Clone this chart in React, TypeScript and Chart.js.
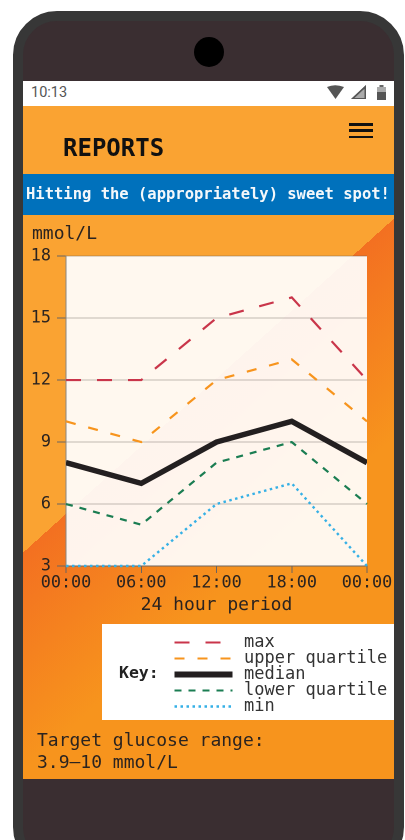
import React, { useEffect, useRef } from "react";
import { Chart, registerables } from "chart.js";

Chart.register(...registerables);

const hours = ["00:00", "06:00", "12:00", "18:00", "00:00"];
const maxValues = [12, 12, 15, 16, 12];
const upperQuartile = [10, 9, 12, 13, 10];
const medianValues = [8, 7, 9, 10, 8];
const lowerQuartile = [6, 5, 8, 9, 6];
const minValues = [3, 3, 6, 7, 3];
const yTicks = [3, 6, 9, 12, 15, 18];

const seriesLabels = ["max", "upper quartile", "median", "lower quartile", "min"];
const seriesValues = [maxValues, upperQuartile, medianValues, lowerQuartile, minValues];
const seriesColors = ["#c9354a", "#f7941d", "#231f20", "#1a7d52", "#35b0e6"];
const seriesWidths = [2.2, 2.2, 5.5, 2.2, 2.4];
const seriesDashes = [[15, 16], [10, 13], [], [7, 7], [2.5, 3.5]];

const MONO = '"DejaVu Sans Mono", monospace';
const TEXT = "#2a2320";

const plotBackground = {
  id: "plotBackground",
  beforeDraw(chart: any) {
    const { ctx, chartArea: a } = chart;
    ctx.save();
    ctx.fillStyle = "rgba(255,255,255,0.92)";
    ctx.fillRect(a.left, a.top, a.right - a.left, a.bottom - a.top);
    ctx.restore();
  },
};

const abs = (left: number, top: number, width: number, height: number, extra: any = {}) => ({
  position: "absolute" as const,
  left,
  top,
  width,
  height,
  ...extra,
});

export default function App() {
  const ref = useRef<HTMLCanvasElement>(null);

  useEffect(() => {
    const chart = new Chart(ref.current!, {
      type: "line",
      plugins: [plotBackground],
      data: {
        labels: hours,
        datasets: seriesLabels.map((label, i) => ({
          label,
          data: seriesValues[i],
          borderColor: seriesColors[i],
          borderWidth: seriesWidths[i],
          borderDash: seriesDashes[i],
          pointRadius: 0,
          tension: 0,
          clip: i === 2 ? 0 : false,
        })) as any,
      },
      options: {
        responsive: false,
        animation: false,
        devicePixelRatio: 2,
        layout: { padding: { left: 0, right: 27, top: 4, bottom: 0 } },
        plugins: { legend: { display: false }, tooltip: { enabled: false } },
        scales: {
          x: {
            offset: false,
            afterFit(s: any) {
              s.height = 50;
            },
            grid: { drawOnChartArea: false, drawTicks: true, tickLength: 7, color: "#6b6460" },
            border: { color: "#6b6460", width: 1 },
            ticks: {
              color: TEXT,
              font: { family: MONO, size: 16.8 },
              padding: 0,
              maxRotation: 0,
              autoSkip: false,
            },
            title: {
              display: true,
              text: "24 hour period",
              color: TEXT,
              font: { family: MONO, size: 18 },
              padding: { top: 0, bottom: 0 },
            },
          },
          y: {
            min: 3,
            max: 18,
            afterFit(s: any) {
              s.width = 43;
            },
            afterBuildTicks(s: any) {
              s.ticks = yTicks.map((value) => ({ value }));
            },
            grid: { color: "rgba(90,85,80,0.38)", lineWidth: 1, tickLength: 9, tickColor: "#6b6460" },
            border: { color: "#8a8580", width: 1 },
            ticks: {
              color: TEXT,
              font: { family: MONO, size: 16.8 },
              padding: 6,
            },
          },
        },
      } as any,
    });
    return () => chart.destroy();
  }, []);

  return (
    <div
      style={{
        position: "fixed",
        left: 0,
        top: 0,
        width: 405,
        height: 840,
        overflow: "hidden",
        background: "#fff",
        fontFamily: MONO,
        color: TEXT,
      }}
    >
      <div style={{ position: "absolute", inset: 0, filter: "blur(0.45px)" }}>
        {/* phone body */}
        <div
          style={abs(13, 11, 391, 860, {
            background: "#3a2e31",
            border: "10px solid #373737",
            boxSizing: "border-box",
            borderRadius: 44,
          })}
        />
        <div style={abs(194, 37, 30, 30, { background: "#000", borderRadius: "50%" })} />

        {/* status bar */}
        <div style={abs(23, 81, 371, 25, { background: "#fff" })} />
        <div
          style={abs(31, 83, 60, 20, {
            fontFamily: '"Roboto", sans-serif',
            fontSize: 14.5,
            lineHeight: "20px",
            color: "#555",
          })}
        >
          10:13
        </div>
        <svg style={abs(326, 85, 62, 16)} viewBox="0 0 62 16">
          <path d="M1 2 Q9 -1.5 18 2 L9.5 14 Z" fill="#555" />
          <path d="M25 14 L40 0 V14 Z" fill="#aaa" />
          <path d="M25 14 L40 0 V14 Z M37 5 L28.5 13 H38.5 V4 Z" fill="#555" fillRule="evenodd" />
          <rect x="51" y="2" width="9" height="13" fill="#aaa" />
          <rect x="53.5" y="0" width="4" height="2" fill="#666" />
          <rect x="51" y="7" width="9" height="8" fill="#555" />
        </svg>

        {/* header */}
        <div style={abs(23, 106, 371, 68, { background: "#faa332" })} />
        <div
          style={abs(63, 133, 200, 30, {
            fontWeight: 700,
            fontSize: 24,
            lineHeight: "30px",
            color: "#111",
          })}
        >
          REPORTS
        </div>
        <div style={abs(349, 123, 24, 2.6, { background: "#111" })} />
        <div style={abs(349, 129, 24, 2.6, { background: "#111" })} />
        <div style={abs(349, 135.5, 24, 2.6, { background: "#111" })} />

        {/* banner */}
        <div style={abs(23, 174, 371, 41, { background: "#0071bc" })} />
        <div
          style={abs(26, 184, 368, 20, {
            fontWeight: 700,
            fontSize: 15.5,
            lineHeight: "20px",
            color: "#f4f8fb",
            whiteSpace: "nowrap",
          })}
        >
          Hitting the (appropriately) sweet spot!
        </div>

        {/* gradient body */}
        <div
          style={abs(23, 215, 371, 564, {
            background:
              "linear-gradient(138deg, #faa332 0%, #faa332 37.6%, #f37021 37.6%, #f7941d 62%, #f7941d 100%)",
          })}
        />
        <div style={abs(32, 222, 100, 22, { fontSize: 18, lineHeight: "22px" })}>mmol/L</div>

        {/* chart */}
        <canvas ref={ref} width={371} height={376} style={{ position: "absolute", left: 23, top: 240 }} />

        {/* key */}
        <div style={abs(102, 624, 292, 96, { background: "#fff" })} />
        <div style={abs(119, 662, 50, 22, { fontWeight: 700, fontSize: 16.5, lineHeight: "22px", color: "#222" })}>
          Key:
        </div>
        {seriesLabels.map((label, i) => (
          <React.Fragment key={label}>
            <svg style={abs(174, 634 + i * 16, 60, 14)} viewBox="0 0 60 14">
              <line
                x1="0.5"
                y1="8.5"
                x2="58.5"
                y2="8.5"
                stroke={seriesColors[i]}
                strokeWidth={i === 2 ? 6 : seriesWidths[i]}
                strokeDasharray={seriesDashes[i].join(" ")}
              />
            </svg>
            <div
              style={abs(244, 632 + i * 16, 150, 18, {
                fontSize: 17,
                lineHeight: "18px",
                whiteSpace: "nowrap",
                color: "#333",
              })}
            >
              {label}
            </div>
          </React.Fragment>
        ))}

        {/* footer */}
        <div style={abs(37, 729, 340, 46, { fontSize: 18, lineHeight: "22px" })}>
          Target glucose range:
          <br />
          3.9–10 mmol/L
        </div>
      </div>
    </div>
  );
}
